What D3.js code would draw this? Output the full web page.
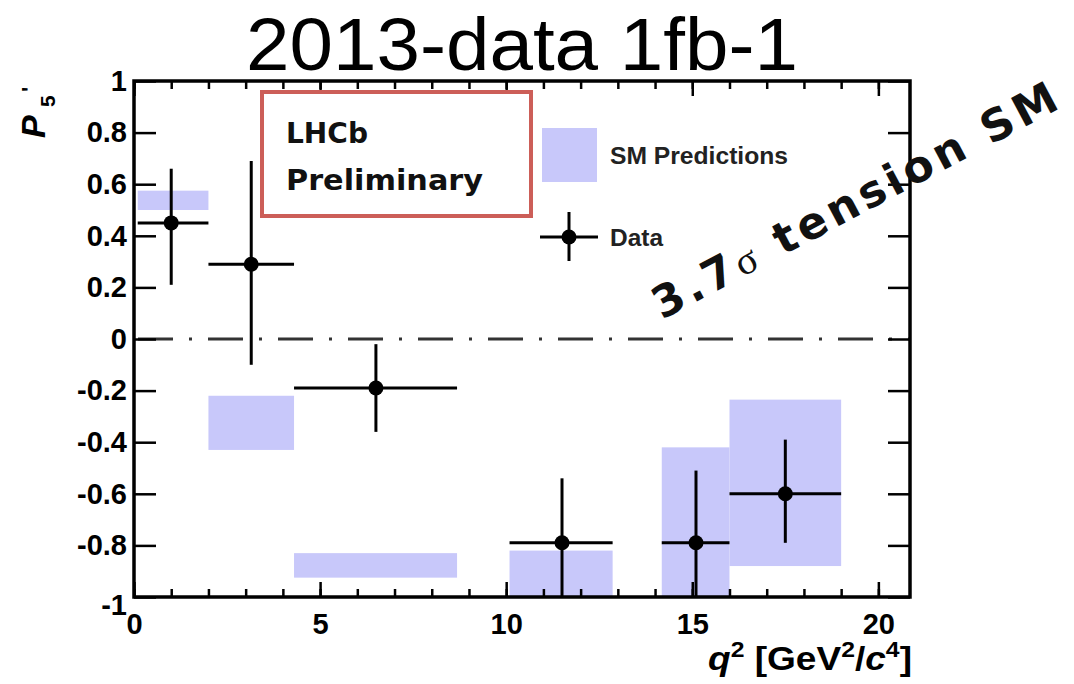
<!DOCTYPE html>
<html>
<head>
<meta charset="utf-8">
<script src="https://cdn.jsdelivr.net/npm/d3@7"></script>
<style>
  body { margin: 0; background: #fff; }
  svg { display: block; }
</style>
</head>
<body>
<div id="chart"></div>
<script>
// q2 bins [GeV^2/c^4]
var binLo = [0.1, 2.0, 4.3, 10.09, 14.18, 16.0],
    binHi = [2.0, 4.3, 8.68, 12.86, 16.0, 19.0],
    q2Mid = [1.0, 3.15, 6.5, 11.5, 15.1, 17.5];

// measured P5'
var p5 = [0.45, 0.29, -0.19, -0.79, -0.79, -0.60],
    p5Hi = [0.66, 0.69, -0.02, -0.54, -0.51, -0.39],
    p5Lo = [0.21, -0.10, -0.36, -1.05, -1.05, -0.79];

// SM prediction bands
var smLo = [0.50, -0.43, -0.925, -1.0, -1.0, -0.88],
    smHi = [0.575, -0.22, -0.83, -0.82, -0.42, -0.235];

var xTicks = [0, 5, 10, 15, 20],
    yTicks = [-1, -0.8, -0.6, -0.4, -0.2, 0, 0.2, 0.4, 0.6, 0.8, 1];

var W = 1074, H = 684,
    pL = 134, pR = 910, pT = 81, pB = 597,
    lavender = "#c8c8fa";

var data = binLo.map(function (d, i) {
  return {lo: binLo[i], hi: binHi[i], q: q2Mid[i], v: p5[i], vHi: p5Hi[i], vLo: p5Lo[i],
          smLo: smLo[i], smHi: smHi[i]};
});

var x = d3.scaleLinear().domain([0, 20.85]).range([pL, pR]);
var y = d3.scaleLinear().domain([-1, 1]).range([pB, pT]);

var svg = d3.select("#chart").append("svg")
  .attr("width", W)
  .attr("height", H);

svg.append("defs").append("clipPath").attr("id", "plot")
  .append("rect")
  .attr("x", pL).attr("y", pT)
  .attr("width", pR - pL).attr("height", pB - pT);

// title
svg.append("text")
  .text("2013-data 1fb-1")
  .attr("x", 522).attr("y", 70)
  .attr("text-anchor", "middle")
  .attr("font-family", "Liberation Sans, Helvetica, Arial, sans-serif")
  .attr("font-size", "75px")
  .attr("textLength", 552)
  .attr("lengthAdjust", "spacingAndGlyphs")
  .attr("fill", "#000");

var plot = svg.append("g").attr("clip-path", "url(#plot)");

// SM bands
plot.selectAll("rect.sm")
  .data(data)
  .enter().append("rect")
    .attr("class", "sm")
    .attr("x", function (d) { return x(d.lo); })
    .attr("width", function (d) { return x(d.hi) - x(d.lo); })
    .attr("y", function (d) { return y(d.smHi); })
    .attr("height", function (d) { return y(d.smLo) - y(d.smHi); })
    .attr("fill", lavender);

// zero line
plot.append("line")
  .attr("x1", x(0)).attr("x2", pR)
  .attr("y1", y(0)).attr("y2", y(0))
  .style("stroke", "#333")
  .style("stroke-width", 3)
  .style("stroke-dasharray", "35,16,3,16")
  .style("stroke-dashoffset", 66);

// data
plot.selectAll("line.xerr")
  .data(data)
  .enter().append("line")
    .attr("class", "xerr")
    .attr("x1", function (d) { return x(d.lo); })
    .attr("x2", function (d) { return x(d.hi); })
    .attr("y1", function (d) { return y(d.v); })
    .attr("y2", function (d) { return y(d.v); })
    .style("stroke", "#000").style("stroke-width", 3);

plot.selectAll("line.yerr")
  .data(data)
  .enter().append("line")
    .attr("class", "yerr")
    .attr("x1", function (d) { return x(d.q); })
    .attr("x2", function (d) { return x(d.q); })
    .attr("y1", function (d) { return y(d.vLo); })
    .attr("y2", function (d) { return y(d.vHi); })
    .style("stroke", "#000").style("stroke-width", 3);

plot.selectAll("circle.pt")
  .data(data)
  .enter().append("circle")
    .attr("class", "pt")
    .attr("cx", function (d) { return x(d.q); })
    .attr("cy", function (d) { return y(d.v); })
    .attr("r", 7.5)
    .attr("fill", "#000");

// axes
var tickFont = "Liberation Sans, Helvetica, Arial, sans-serif";
function fmt(d) { return d === 0 ? "0" : String(+d.toFixed(1)); }
var minorX = d3.range(0, 21, 1);

svg.append("g")
  .attr("transform", "translate(0," + pB + ")")
  .call(d3.axisBottom(x).tickValues(minorX).tickSize(-8).tickFormat(""));
svg.append("g")
  .attr("class", "xlab")
  .attr("transform", "translate(0," + pB + ")")
  .call(d3.axisBottom(x).tickValues(xTicks).tickSize(-15).tickPadding(16).tickFormat(fmt));
svg.append("g")
  .attr("transform", "translate(0," + pT + ")")
  .call(d3.axisTop(x).tickValues(minorX).tickSize(-8).tickFormat(""));
svg.append("g")
  .attr("transform", "translate(0," + pT + ")")
  .call(d3.axisTop(x).tickValues(xTicks).tickSize(-15).tickFormat(""));
svg.append("g")
  .attr("class", "ylab")
  .attr("transform", "translate(" + pL + ",0)")
  .call(d3.axisLeft(y).tickValues(yTicks).tickSize(-22).tickPadding(7).tickFormat(fmt));
svg.append("g")
  .attr("transform", "translate(" + pR + ",0)")
  .call(d3.axisRight(y).tickValues(yTicks).tickSize(-22).tickFormat(""));

svg.selectAll(".domain").remove();
svg.selectAll(".tick line").style("stroke", "#000").style("stroke-width", 2.5);
svg.selectAll(".xlab text, .ylab text")
  .attr("font-family", tickFont)
  .attr("font-weight", "bold")
  .attr("font-size", "29px")
  .attr("fill", "#000");
svg.selectAll(".ylab .tick").filter(function (d) { return d === -1; })
  .select("text").attr("dy", "0.6em");

// frame
svg.append("rect")
  .attr("x", pL).attr("y", pT)
  .attr("width", pR - pL).attr("height", pB - pT)
  .attr("fill", "none")
  .style("stroke", "#000").style("stroke-width", 3.5);

// axis titles
svg.append("text")
  .attr("x", 912).attr("y", 670)
  .attr("text-anchor", "end")
  .attr("font-family", tickFont)
  .attr("font-weight", "bold")
  .attr("font-size", "33px")
  .attr("fill", "#000")
  .attr("textLength", 204)
  .attr("lengthAdjust", "spacingAndGlyphs")
  .call(function (t) {
    t.append("tspan").attr("font-style", "italic").text("q");
    t.append("tspan").attr("font-size", "22px").attr("dy", -13).text("2");
    t.append("tspan").attr("dy", 13).text(" [GeV");
    t.append("tspan").attr("font-size", "22px").attr("dy", -13).text("2");
    t.append("tspan").attr("dy", 13).text("/");
    t.append("tspan").attr("font-style", "italic").text("c");
    t.append("tspan").attr("font-size", "22px").attr("dy", -13).text("4");
    t.append("tspan").attr("dy", 13).text("]");
  });

var ylab = svg.append("g").attr("transform", "translate(45,138) rotate(-90)");
ylab.append("text").text("P")
  .attr("font-family", tickFont).attr("font-weight", "bold").attr("font-style", "italic")
  .attr("font-size", "34px").attr("fill", "#000");
ylab.append("text").text("5")
  .attr("x", 31).attr("y", 10)
  .attr("font-family", tickFont).attr("font-weight", "bold")
  .attr("font-size", "21px").attr("fill", "#000");
ylab.append("text").text("'")
  .attr("x", 46).attr("y", -8)
  .attr("font-family", tickFont).attr("font-weight", "bold")
  .attr("font-size", "22px").attr("fill", "#000");

// LHCb box
svg.append("rect")
  .attr("x", 262).attr("y", 92)
  .attr("width", 269).attr("height", 124)
  .attr("fill", "#fff")
  .style("stroke", "#cc5e58").style("stroke-width", 4);
svg.append("text").text("LHCb")
  .attr("x", 286).attr("y", 143)
  .attr("font-family", "DejaVu Sans, sans-serif").attr("font-weight", "bold")
  .attr("font-size", "29px").attr("fill", "#111")
  .attr("textLength", 82).attr("lengthAdjust", "spacingAndGlyphs");
svg.append("text").text("Preliminary")
  .attr("x", 286).attr("y", 190)
  .attr("font-family", "DejaVu Sans, sans-serif").attr("font-weight", "bold")
  .attr("font-size", "29px").attr("fill", "#111")
  .attr("textLength", 197).attr("lengthAdjust", "spacingAndGlyphs");

// legend
var legFont = "Liberation Sans, Helvetica, Arial, sans-serif";
svg.append("rect")
  .attr("x", 542).attr("y", 128)
  .attr("width", 55).attr("height", 54)
  .attr("fill", lavender);
svg.append("text").text("SM Predictions")
  .attr("x", 610).attr("y", 164)
  .attr("font-family", legFont).attr("font-weight", "bold")
  .attr("font-size", "23px").attr("fill", "#222")
  .attr("textLength", 178).attr("lengthAdjust", "spacingAndGlyphs");
svg.append("line")
  .attr("x1", 540).attr("x2", 598).attr("y1", 237).attr("y2", 237)
  .style("stroke", "#000").style("stroke-width", 3);
svg.append("line")
  .attr("x1", 569).attr("x2", 569).attr("y1", 212).attr("y2", 261)
  .style("stroke", "#000").style("stroke-width", 3);
svg.append("circle")
  .attr("cx", 569).attr("cy", 237).attr("r", 7.5).attr("fill", "#000");
svg.append("text").text("Data")
  .attr("x", 610).attr("y", 246)
  .attr("font-family", legFont).attr("font-weight", "bold")
  .attr("font-size", "23px").attr("fill", "#222")
  .attr("textLength", 53).attr("lengthAdjust", "spacingAndGlyphs");

// handwritten note
var note = svg.append("text")
  .attr("transform", "translate(662,320) rotate(-28)")
  .attr("font-family", "DejaVu Sans, sans-serif")
  .attr("font-weight", "bold")
  .attr("font-size", "44px")
  .attr("fill", "#111")
  .attr("textLength", 452)
  .attr("lengthAdjust", "spacing");
note.append("tspan").text("3.7");
note.append("tspan").attr("font-family", "Liberation Serif, serif").attr("font-weight", "normal")
  .attr("font-size", "40px").text("σ");
note.append("tspan").text(" tension SM");
</script>
</body>
</html>
